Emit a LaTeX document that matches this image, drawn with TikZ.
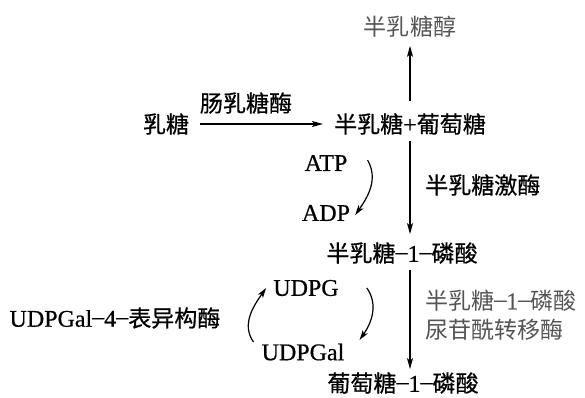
\documentclass[tikz,border=0pt]{standalone}
\usepackage{fontspec}
\setmainfont{Liberation Serif}[FakeBold=0.6]
\newfontfamily\cjk[Scale=0.96, FakeBold=0.6]{Noto Sans CJK SC}
\newfontfamily\cjklight[Scale=0.96]{Noto Sans CJK SC}
\newcommand{\zh}[1]{{\cjk #1}}
\newcommand{\zhl}[1]{{\cjklight #1}}
\newcommand{\hy}{\raisebox{0.1em}{–}}
\usetikzlibrary{arrows.meta}
\definecolor{scangray}{HTML}{555555}

\tikzset{
	chem/.style={inner sep=2pt, font=\fontsize{24}{27}\selectfont},
	faint/.style={inner sep=2pt, font=\fontsize{24}{27}\selectfont, text=scangray},
	arr/.style={-{Stealth[length=11pt,width=6pt,inset=2.5pt]}, line width=1.2pt},
	cyc/.style={-{Stealth[length=10pt,width=6pt,inset=2.5pt]}, line width=1.2pt},
}

\begin{document}
\begin{tikzpicture}[x=1pt, y=-1pt]
	\useasboundingbox (0, 0) rectangle (585, 397);
	% substances
	\node [faint] (galol) at (410, 27) {\zhl{半乳糖醇}};
	\node [chem] (lac) at (166, 124) {\zh{乳糖}};
	\node [chem] (galglc) at (410, 124) {\zh{半乳糖}+\zh{葡萄糖}};
	\node [chem] (gal1p) at (402, 253) {\zh{半乳糖}\hy1\hy\zh{磷酸}};
	\node [chem] (glc1p) at (403, 383) {\zh{葡萄糖}\hy1\hy\zh{磷酸}};
	\node [chem] (atp) at (326, 163) {ATP};
	\node [chem] (adp) at (326, 213) {ADP};
	\node [chem] (udpg) at (306, 288) {UDPG};
	\node [chem] (udpgal) at (303, 352) {UDPGal};
	% enzymes
	\node [chem] (lactase) at (246, 103) {\zh{肠乳糖酶}};
	\node [chem, anchor=west] (kinase) at (423, 185) {\zh{半乳糖激酶}};
	\node [faint, anchor=west, align=left] (transf) at (423, 315) {\zhl{半乳糖}\hy1\hy\zhl{磷酸}\\[2pt]\zhl{尿苷酰转移酶}};
	\node [chem] (epim) at (115, 318) {UDPGal\hy4\hy\zh{表异构酶}};
	% main path
	\draw [arr, shorten <=9pt, shorten >=9pt] (lac.east) -- (galglc.west);
	\draw [arr, shorten <=10pt, shorten >=6pt] (galglc.north) -- (galglc.north |- galol.south);
	\draw [arr, shorten <=4pt, shorten >=6pt] (galglc.south) -- (galglc.south |- gal1p.north);
	\draw [arr, shorten <=4pt, shorten >=1pt] (galglc.south |- gal1p.south) -- (galglc.south |- glc1p.north);
	% cofactors
	\draw [cyc] ([xshift=18pt, yshift=3pt]atp.east) to[out=-60, in=55] ([xshift=3pt, yshift=-2pt]adp.east);
	\draw [cyc] ([xshift=26pt]udpg.east) to[out=-55, in=55] ([xshift=13pt, yshift=12pt]udpgal.east);
	\draw [cyc] ([xshift=-6pt, yshift=10pt]udpgal.west) to[out=125, in=-125] ([xshift=-5pt]udpg.west);
\end{tikzpicture}
\end{document}
